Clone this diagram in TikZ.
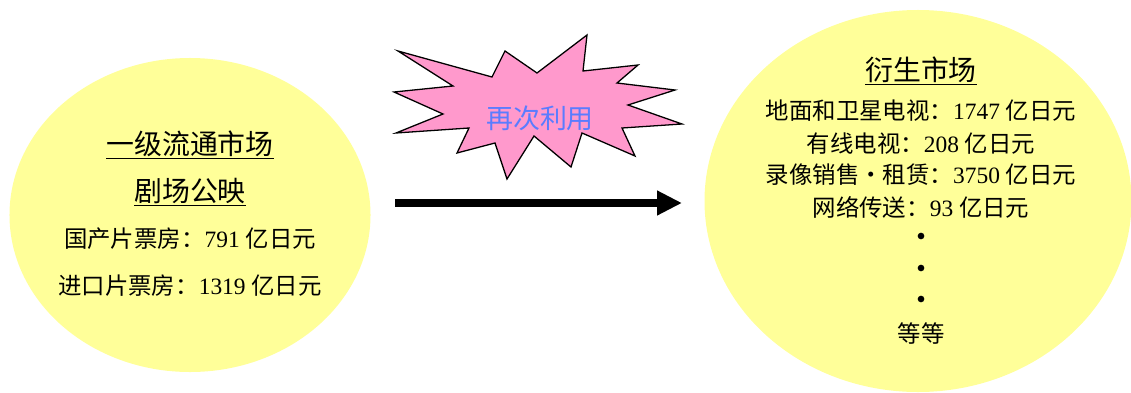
\documentclass[tikz,border=0pt]{standalone}
\usepackage{fontspec}
\setmainfont{Liberation Serif}
\newfontfamily\cjk{Noto Sans CJK SC}
\usepackage{tikz}
\usetikzlibrary{arrows.meta,shapes.geometric}
\definecolor{marketyellow}{HTML}{FFFF99}
\definecolor{burstpink}{HTML}{FF99CC}
\definecolor{burstblue}{HTML}{5A7CFF}
\tikzset{
  market/.style={ellipse,fill=marketyellow,inner sep=0pt},
  title line/.style={anchor=base,font=\cjk\fontsize{23.8}{28}\selectfont},
  info line/.style={anchor=base,font=\fontsize{20}{24}\selectfont},
  more dot/.style={circle,fill=black,inner sep=0pt,minimum size=2mm},
  burst/.style={draw=black,fill=burstpink,line width=1.1pt,line join=miter},
  burst text/.style={anchor=base,text=burstblue,font=\cjk\fontsize{23}{28}\selectfont},
  reuse/.style={draw=black,line width=6pt,-{Triangle[length=7.5mm,width=7mm]}}
}

\begin{document}
\begin{tikzpicture}[x=0.03cm,y=-0.03cm]
  \useasboundingbox (0,0) rectangle (1131,392);
  \clip (0,0) rectangle (1131,392);
  \node[market,minimum width=10.83cm,minimum height=9.42cm] (primary) at (190,215) {};
  \node[market,minimum width=12.81cm,minimum height=11.46cm] (derived) at (918,201) {};
  % primary market
  \node[title line] (p1) at (190,154) {\underline{一级流通市场}};
  \node[title line] (p2) at (190,201) {\underline{剧场公映}};
  \node[info line] (p3) at (190,247) {{\cjk 国产片票房：}791 {\cjk 亿日元}};
  \node[info line] (p4) at (190,294) {{\cjk 进口片票房：}1319 {\cjk 亿日元}};
  % derived market
  \node[title line] (d1) at (921,80) {\underline{衍生市场}};
  \node[info line] (d2) at (921,119) {{\cjk 地面和卫星电视：}1747 {\cjk 亿日元}};
  \node[info line] (d3) at (921,152) {{\cjk 有线电视：}208 {\cjk 亿日元}};
  \node[info line] (d4) at (921,183) {{\cjk 录像销售・租赁：}3750 {\cjk 亿日元}};
  \node[info line] (d5) at (921,216) {{\cjk 网络传送：}93 {\cjk 亿日元}};
  \foreach \y [count=\i] in {236,268,299}
    \node[more dot] (dot\i) at (921,\y) {};
  \node[info line,font=\cjk\fontsize{20}{24}\selectfont] (d6) at (921,342) {等等};
  % burst
  \draw[burst] (398,51) -- (492,77) -- (505,51) -- (537,73) -- (587,35)
    -- (583,71) -- (638,65) -- (617,83) -- (675,90) -- (628,105)
    -- (682,124) -- (622,128) -- (635,156) -- (582,133) -- (571,167)
    -- (534,136) -- (507,179) -- (495,143) -- (457,153) -- (469,128)
    -- (396,133) -- (443,114) -- (394,92) -- (453,86) -- cycle;
  \node[burst text] (again) at (540,128) {再次利用};
  % arrow
  \coordinate (from) at (395,203);
  \coordinate (to) at (682,203);
  \draw[reuse] (from) -- (to);
\end{tikzpicture}
\end{document}
